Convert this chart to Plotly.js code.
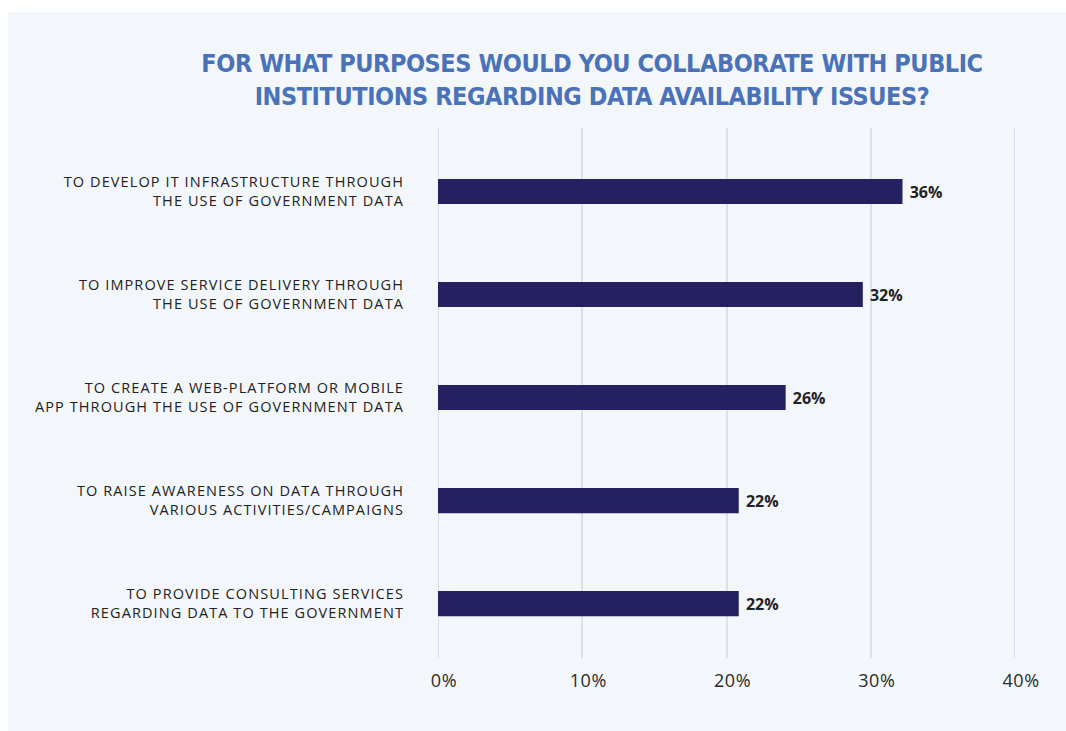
<!DOCTYPE html>
<html>
<head>
<meta charset="utf-8">
<script src="https://cdn.plot.ly/plotly-3.0.1.min.js"></script>
<style>
  html, body { margin: 0; padding: 0; background: #ffffff; }
  #chart { position: absolute; left: 8px; top: 12px; width: 1058px; height: 719px; }
  #chart .ytick text { letter-spacing: 1.1px; }
  #chart .xtick text { letter-spacing: 0.6px; }
  #chart .gtitle { letter-spacing: -0.45px; }
</style>
</head>
<body>
<div id="chart"></div>
<script>
const categories = [
  "TO DEVELOP IT INFRASTRUCTURE THROUGH<br>THE USE OF GOVERNMENT DATA",
  "TO IMPROVE SERVICE DELIVERY THROUGH<br>THE USE OF GOVERNMENT DATA",
  "TO CREATE A WEB-PLATFORM OR MOBILE<br>APP THROUGH THE USE OF GOVERNMENT DATA",
  "TO RAISE AWARENESS ON DATA THROUGH<br>VARIOUS ACTIVITIES/CAMPAIGNS",
  "TO PROVIDE CONSULTING SERVICES<br>REGARDING DATA TO THE GOVERNMENT"
];
// bar lengths as drawn in the reference (percent)
const barValues = [32.2, 29.45, 24.1, 20.85, 20.85];
// labels printed next to the bars
const barLabels = ["36%", "32%", "26%", "22%", "22%"];
const xTickVals = [0, 10, 20, 30, 40];
const xTickText = ["0%", "10%", "20%", "30%", "40%"];
const titleText = "FOR WHAT PURPOSES WOULD YOU COLLABORATE WITH PUBLIC<br>INSTITUTIONS REGARDING DATA AVAILABILITY ISSUES?";

const gridColor = "#dde0e4";

const trace = {
  type: "bar",
  orientation: "h",
  y: categories,
  x: barValues,
  text: barLabels.map(t => " " + t),
  textposition: "outside",
  cliponaxis: false,
  textfont: { family: "Open Sans, sans-serif", size: 16, color: "#222222", weight: 700 },
  marker: { color: "#252060" },
  width: 0.245,
  hoverinfo: "none"
};

// edge gridlines (Plotly skips gridlines that sit on the plot edges)
const edgeLines = [xTickVals[0], xTickVals[xTickVals.length - 1]].map(v => ({
  type: "line", xref: "x", yref: "paper", x0: v, x1: v, y0: 0, y1: 1,
  line: { color: gridColor, width: 2 }, layer: "below"
}));

const layout = {
  width: 1058,
  height: 719,
  paper_bgcolor: "#f3f6fa",
  plot_bgcolor: "#f3f6fa",
  margin: { l: 430, r: 51, t: 116, b: 73 },
  showlegend: false,
  title: {
    text: titleText,
    font: { family: "DejaVu Sans Condensed, Liberation Sans Narrow, DejaVu Sans, sans-serif", size: 25, color: "#4a72b8", weight: 700 },
    x: 0.552, xanchor: "center", xref: "container",
    y: 1 - 60 / 719, yanchor: "top", yref: "container"
  },
  shapes: edgeLines,
  xaxis: {
    range: [xTickVals[0], xTickVals[xTickVals.length - 1]],
    tickvals: xTickVals,
    ticktext: xTickText,
    showgrid: true,
    gridcolor: gridColor,
    gridwidth: 2,
    zeroline: false,
    showline: false,
    ticks: "",
    ticklabelstandoff: 10,
    ticklabelshift: 6,
    tickfont: { family: "Open Sans, sans-serif", size: 18, color: "#2b2b2b" },
    fixedrange: true
  },
  yaxis: {
    type: "category",
    range: [4.529, -0.6165],
    showgrid: false,
    zeroline: false,
    showline: false,
    ticks: "",
    ticklabelstandoff: 33,
    tickfont: { family: "Open Sans, sans-serif", size: 14.5, color: "#222222" },
    fixedrange: true
  }
};

Plotly.newPlot("chart", [trace], layout, { displayModeBar: false, staticPlot: true });
</script>
</body>
</html>
